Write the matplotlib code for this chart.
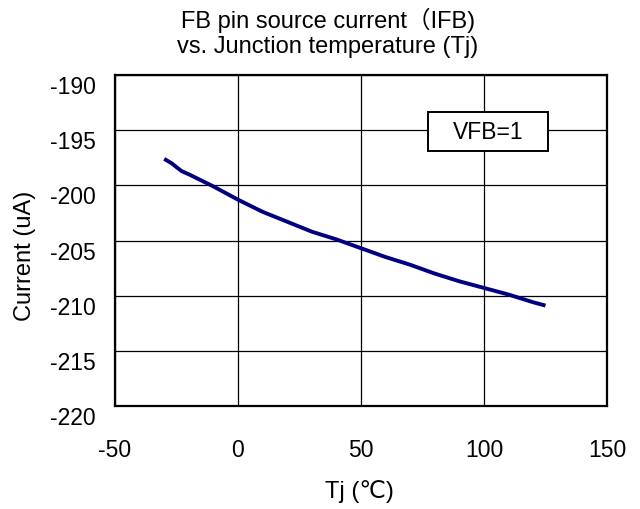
import matplotlib
matplotlib.use("Agg")
import matplotlib.pyplot as plt
from matplotlib.transforms import ScaledTranslation
from matplotlib.patches import Rectangle

plt.rcParams['font.family'] = ['Liberation Sans', 'DejaVu Sans', 'Noto Sans CJK SC']
plt.rcParams['axes.unicode_minus'] = False

tj = [-30, -27, -23, -20, -10, 0, 10, 20, 30, 40, 50, 60, 70, 80, 90, 100, 110, 120, 125]
current = [-197.6, -198.0, -198.7, -199.0, -200.1, -201.3, -202.4, -203.3, -204.2, -204.9,
           -205.7, -206.5, -207.2, -208.0, -208.7, -209.3, -209.9, -210.6, -210.9]

xticks = [-50, 0, 50, 100, 150]
yticks = [-220, -215, -210, -205, -200, -195, -190]
box_label = "VFB=1"

fig = plt.figure(figsize=(6.4, 5.1), dpi=100)
W, H = 640, 510
ax = fig.add_axes([115/W, 1-407/H, (607-115)/W, (407-76)/H])

ax.plot(tj, current, color='#000080', lw=2.8, solid_capstyle='butt')
ax.set_xlim(-50, 150)
ax.set_ylim(-220, -190)
ax.set_xticks(xticks)
ax.set_yticks(yticks)
ax.grid(True, color='black', lw=0.9)
ax.set_axisbelow(True)
for s in ax.spines.values():
    s.set_linewidth(1.6)
    s.set_color('black')
ax.tick_params(length=0, labelsize=16.5)
ax.tick_params(axis='x', pad=23)
ax.tick_params(axis='y', pad=14)
off = ScaledTranslation(0, -6.5/72, fig.dpi_scale_trans)
for lab in ax.get_yticklabels():
    lab.set_transform(lab.get_transform() + off)

# legend-like label box (axes fraction)
bx0, bx1 = (428-115)/492, (548-115)/492
by0, by1 = (407-152)/331, (407-113)/331
ax.add_patch(Rectangle((bx0, by0), bx1-bx0, by1-by0, transform=ax.transAxes,
                       fc='white', ec='black', lw=1.4, zorder=5))
ax.text((bx0+bx1)/2, (by0+by1)/2, box_label, transform=ax.transAxes,
        ha='center', va='center', fontsize=16.5, zorder=6)

fig.text(328/W, 1-28/H, "FB pin source current\uff08IFB)", ha='center', va='baseline', fontsize=17)
fig.text(328/W, 1-53/H, "vs. Junction temperature (Tj)", ha='center', va='baseline', fontsize=17)
fig.text(25/W, 1-256/H, "Current (uA)", ha='center', va='center', rotation=90, fontsize=17)
fig.text(359/W, 1-498/H, "Tj (\u2103)", ha='center', va='baseline', fontsize=17)

fig.savefig("out.png", dpi=100)
